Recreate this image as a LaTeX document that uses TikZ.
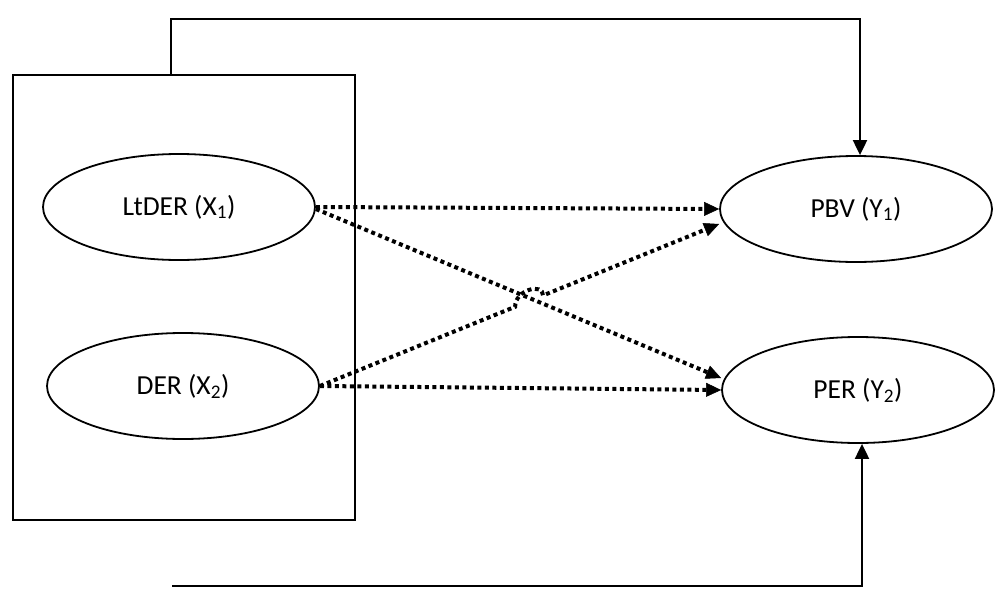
\documentclass[tikz,border=0pt]{standalone}
\usepackage{fontspec}
\setmainfont{Carlito}
\usetikzlibrary{arrows.meta,shapes.geometric,calc}
\begin{document}
\begin{tikzpicture}[x=1pt,y=-1pt,
  ell/.style={draw,line width=1.8pt,ellipse,minimum width=272pt,minimum height=106pt,inner sep=0pt,
    font=\fontsize{27.5}{32}\selectfont},
  solidarr/.style={line width=2pt,-{Triangle[length=15pt,width=14pt]}},
  dotarr/.style={line width=4pt,dash pattern=on 4pt off 3.5pt,-{Triangle[length=15pt,width=14pt,line width=0.5pt]}}]
\useasboundingbox (0,0) rectangle (1002,597);
\node[draw,line width=2pt,minimum width=342pt,minimum height=445pt,inner sep=0pt] (box) at (184,297.5) {};
\node[ell] (x1) at (179,207) {LtDER (X\textsubscript{1})};
\node[ell] (x2) at (183,386) {DER (X\textsubscript{2})};
\node[ell] (y1) at (856,209) {PBV (Y\textsubscript{1})};
\node[ell] (y2) at (858,390) {PER (Y\textsubscript{2})};
\coordinate (b0) at (172,586);
\draw[solidarr] ([xshift=-13pt]box.north) -- ++(0,-55) -| ([xshift=4pt]y1.north);
\draw[solidarr] (b0) -| ([xshift=4pt]y2.south);
\draw[dotarr] (x1.east) -- (y1.west);
\draw[dotarr] (x2.east) -- (y2.west);
\draw[dotarr] ([yshift=-2pt]x1.east) -- ([yshift=12pt]y2.west);
\coordinate (p0) at (x2.east);
\coordinate (p1) at ([yshift=-15pt]y1.west);
\coordinate (h1) at ($(p0)!0.489!(p1)$);
\coordinate (h2) at ($(p0)!0.559!(p1)$);
\draw[dotarr] (p0) -- (h1) .. controls ($(h1)+(0,-17)$) and ($(h2)+(0,-13)$) .. (h2) -- (p1);
\end{tikzpicture}
\end{document}
